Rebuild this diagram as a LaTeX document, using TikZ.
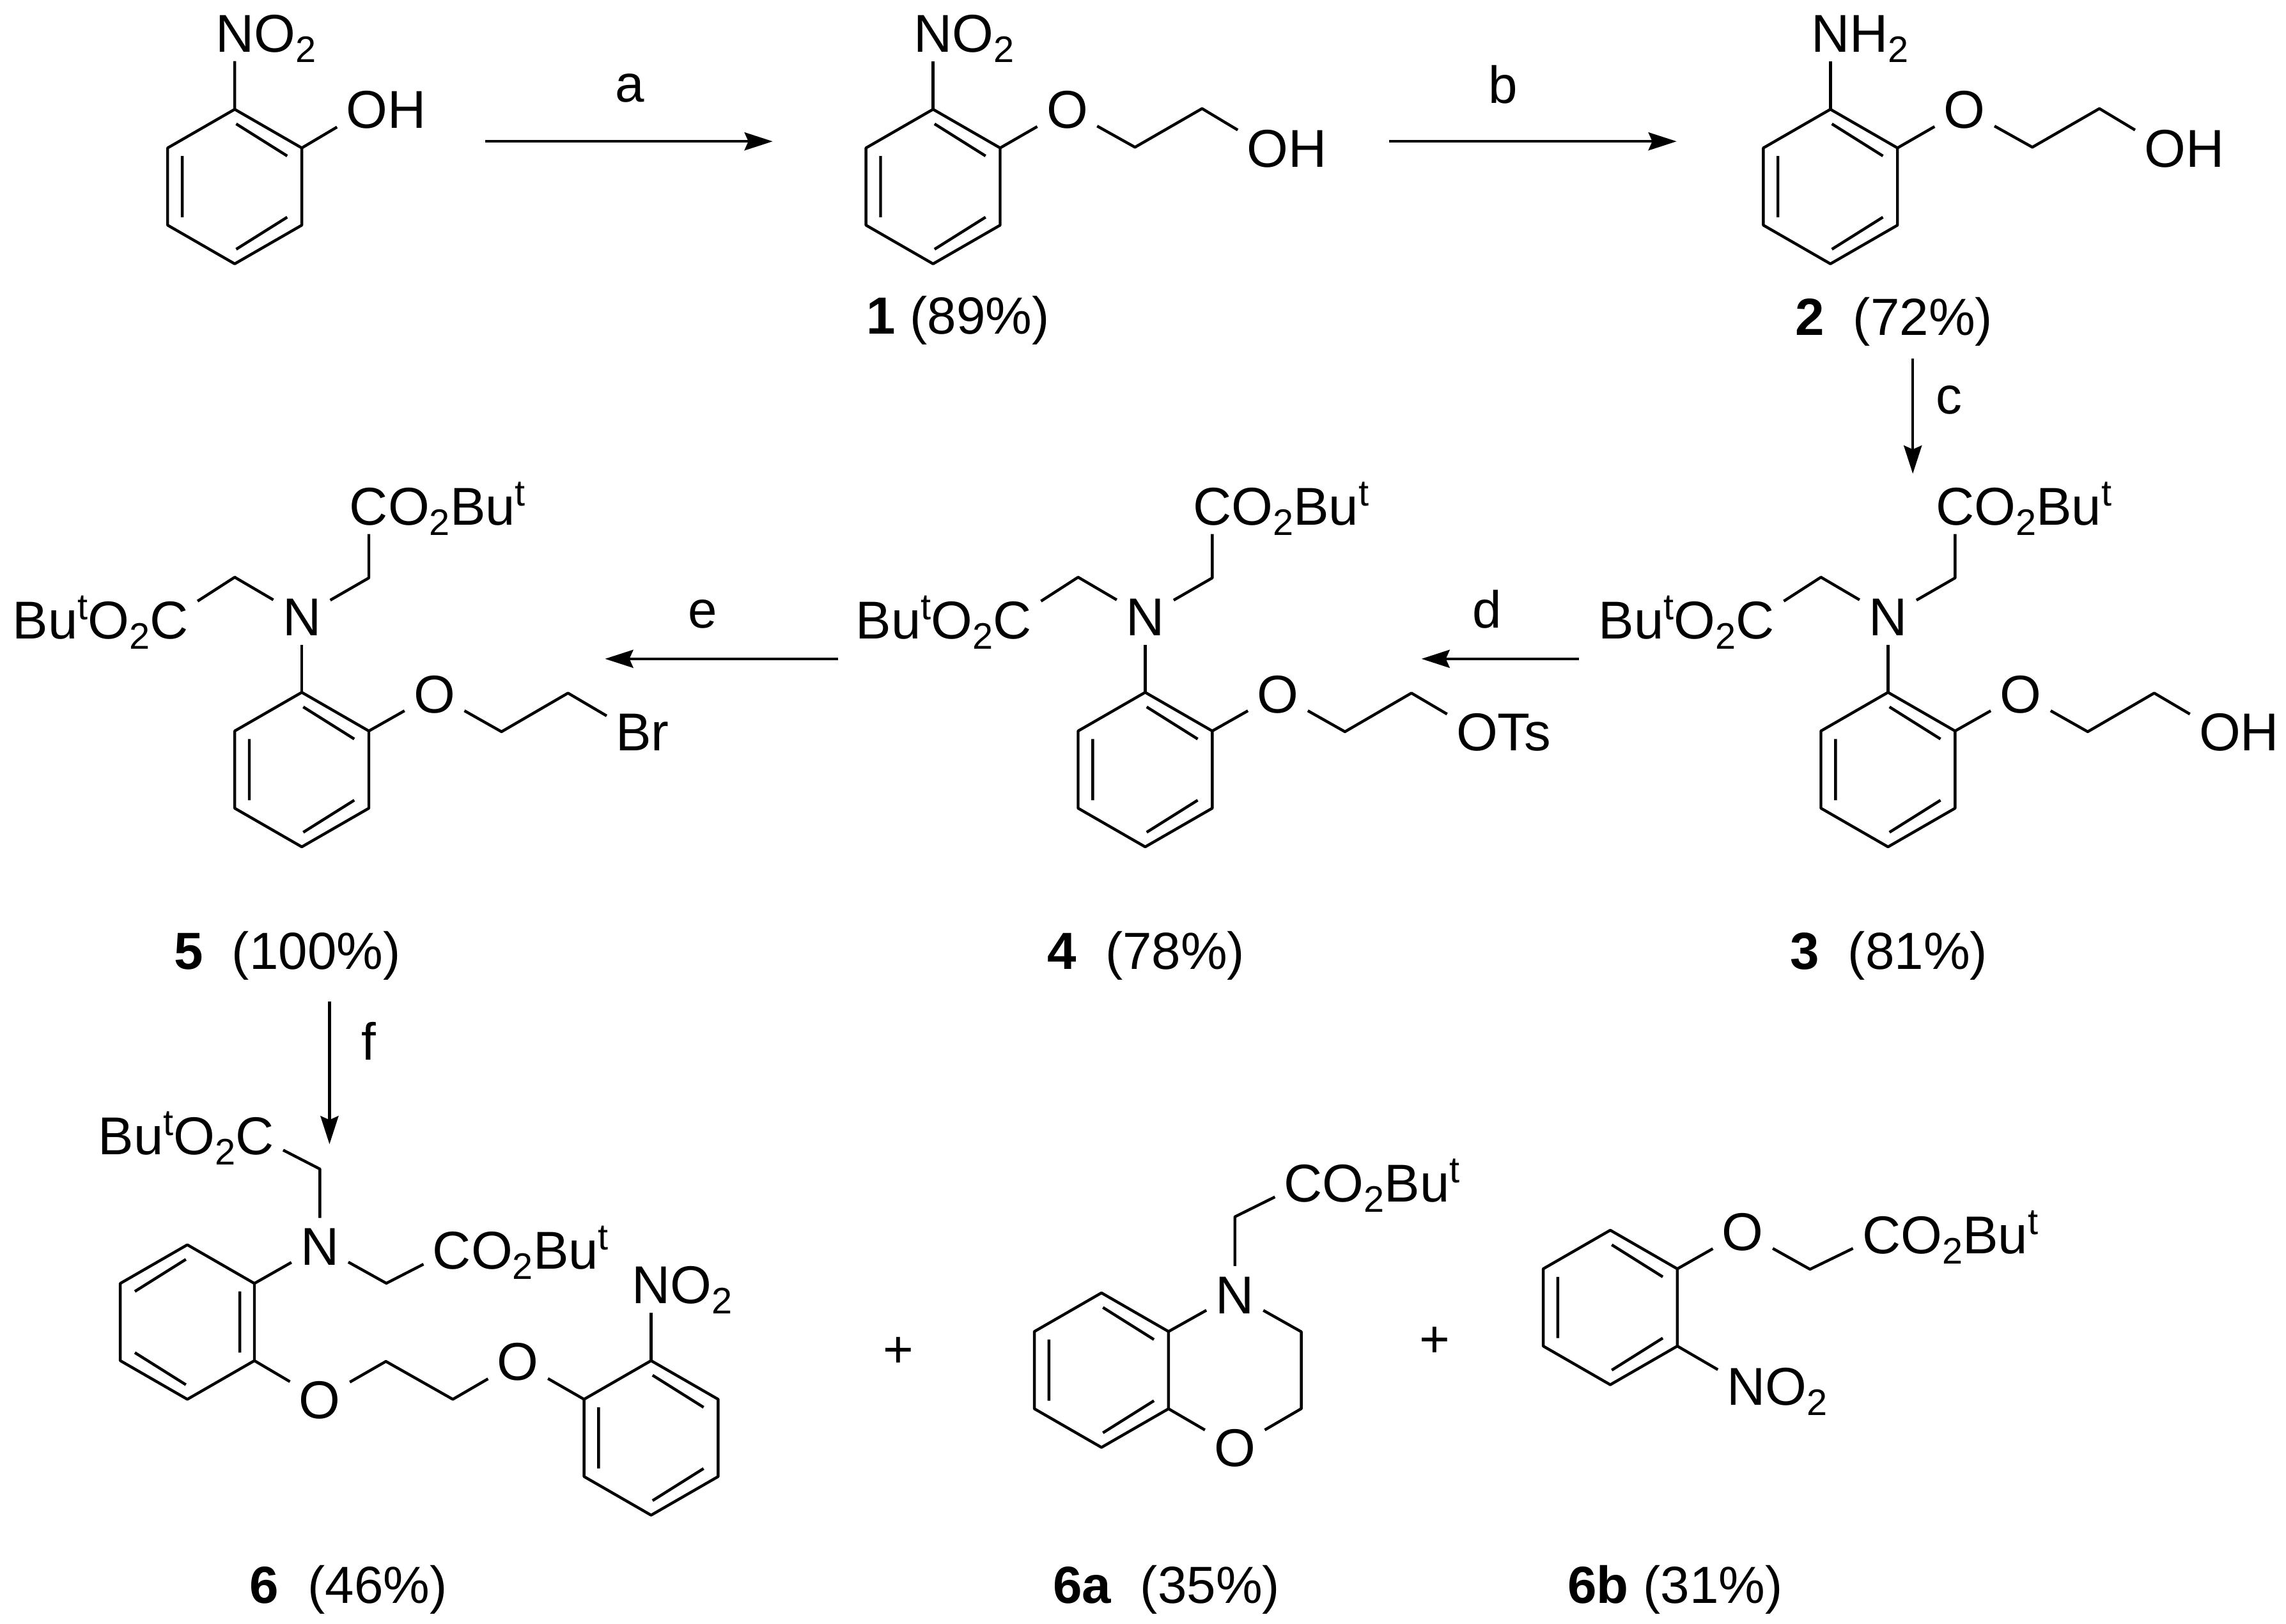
\documentclass[tikz,border=0pt]{standalone}
\usepackage{fontspec}
\setmainfont{Liberation Sans}
\usepackage{tikz}
\usetikzlibrary{arrows.meta}
\usetikzlibrary{positioning}
\newcommand{\chemsub}[1]{\raisebox{-4pt}{\fontsize{14.4}{15}\selectfont #1}}
\newcommand{\chemsup}[1]{\raisebox{7.4pt}{\fontsize{14.4}{15}\selectfont #1}}
\newcommand{\tbu}{Bu\chemsup{t}}
\tikzset{
	myscheme/.style = {
		x=0.02cm, y=-0.02cm, >={Stealth[length=11pt,width=7pt,inset=1.5pt]},
	},
	bond/.style = {line width=1.1pt, line join=round},
	step arrow/.style = {->, line width=1.1pt},
	atom/.style = {font=\fontsize{20.8}{24}\selectfont, inner sep=0pt, outer sep=3.6pt, text height=14.9pt, text depth=0pt},
	reagent/.style = {font=\fontsize{20.4}{24}\selectfont, inner sep=0pt, anchor=base},
}
% ring name, centre, 1 or -1 (mirror)
\newcommand{\benzring}[3]{
	\begin{scope}[shift={(#2)}, xscale=#3]
		\foreach \v/\dx/\dy in {1/0/-53, 2/46/-26.5, 3/46/26.5, 4/0/53, 5/-46/26.5, 6/-46/-26.5,
			a/-36/-21, b/-36/21, c/1/-43, d/36/-21, e/36/21, f/1/43}
			\coordinate (#1\v) at (\dx,\dy);
		\draw[bond] (#11) -- (#12) -- (#13) -- (#14) -- (#15) -- (#16) -- cycle;
		\draw[bond] (#1a) -- (#1b) (#1c) -- (#1d) (#1e) -- (#1f);
	\end{scope}
}

\begin{document}
\begin{tikzpicture}[myscheme]
	\useasboundingbox (0,0) rectangle (1568,1114.17);

	% top row
	\benzring{r0}{161,128}{1}
	\node[atom] (no0) at (161,22.5) {N\rlap{O\chemsub{2}}};
	\node[atom] (oh0) at (251.7,75) {O\rlap{H}};
	\draw[bond] (r01) -- (no0) (r02) -- (oh0);

	\foreach \cpd/\x/\second in {1/640/O, 2/1255.5/H} {
		\benzring{r\cpd}{\x,128}{1}
		\node[atom] (top\cpd) at (\x,22.5) {N\rlap{\second\chemsub{2}}};
		\node[atom] (oa\cpd) at (\x+92,75) {O};
		\coordinate (ca\cpd) at (\x+138.5,101);
		\coordinate (cb\cpd) at (\x+184.5,74.5);
		\node[atom] (oh\cpd) at (\x+229.5,101.5) {O\rlap{H}};
		\draw[bond] (r\cpd1) -- (top\cpd);
		\draw[bond] (r\cpd2) -- (oa\cpd) -- (ca\cpd) -- (cb\cpd) -- (oh\cpd);
	}

	% middle row
	\foreach \cpd/\x/\first/\rest in {3/1295/O/H, 4/785.5/O/Ts, 5/207/B/r} {
		\benzring{r\cpd}{\x,528}{1}
		\node[atom] (n\cpd) at (\x,423) {N};
		\coordinate (ca\cpd) at (\x-46,396);
		\coordinate (cb\cpd) at (\x+46,396.5);
		\node[atom] (esl\cpd) at (\x-91,425) {\llap{\tbu O\chemsub{2}}C};
		\node[atom] (esr\cpd) at (\x+46,347) {C\rlap{O\chemsub{2}\tbu}};
		\node[atom] (oa\cpd) at (\x+91,476) {O};
		\coordinate (cc\cpd) at (\x+137,502);
		\coordinate (cd\cpd) at (\x+182.6,475.5);
		\node[atom] (end\cpd) at (\x+227.6,502) {\first\rlap{\rest}};
		\draw[bond] (r\cpd1) -- (n\cpd);
		\draw[bond] (esl\cpd) -- (ca\cpd) -- (n\cpd) -- (cb\cpd) -- (esr\cpd);
		\draw[bond] (r\cpd2) -- (oa\cpd) -- (cc\cpd) -- (cd\cpd) -- (end\cpd);
	}

	% bottom row, 6 (left ring is mirrored, so 6 is its upper right vertex)
	\benzring{r6l}{128.5,907}{-1}
	\benzring{r6r}{446.6,986.5}{1}
	\node[atom] (n6) at (219.4,855) {N};
	\coordinate (ca6) at (219.4,802);
	\coordinate (cb6) at (265,880.4);
	\node[atom] (esl6) at (174.7,779) {\llap{\tbu O\chemsub{2}}C};
	\node[atom] (esr6) at (310,857.3) {C\rlap{O\chemsub{2}\tbu}};
	\node[atom] (oa6) at (219.4,960) {O};
	\coordinate (cc6) at (264.7,934);
	\coordinate (cd6) at (310.6,960);
	\node[atom] (ob6) at (355.3,934) {O};
	\node[atom] (no6) at (446.6,881) {N\rlap{O\chemsub{2}}};
	\draw[bond] (r6l6) -- (n6) -- (cb6) -- (esr6);
	\draw[bond] (esl6) -- (ca6) -- (n6);
	\draw[bond] (r6l5) -- (oa6) -- (cc6) -- (cd6) -- (ob6) -- (r6r6);
	\draw[bond] (r6r1) -- (no6);

	% 6a
	\benzring{r6a}{755.5,940}{1}
	\node[atom] (n6a) at (847,888) {N};
	\node[atom] (o6a) at (847,993) {O};
	\coordinate (ca6a) at (892.6,913.7);
	\coordinate (cb6a) at (892.6,966.4);
	\coordinate (cc6a) at (847,834.8);
	\node[atom] (es6a) at (894,811.5) {C\rlap{O\chemsub{2}\tbu}};
	\draw[bond] (r6a2) -- (n6a) -- (ca6a) -- (cb6a) -- (o6a) -- (r6a3);
	\draw[bond] (n6a) -- (cc6a) -- (es6a);

	% 6b
	\benzring{r6b}{1104.5,897}{1}
	\node[atom] (o6b) at (1195.4,845) {O};
	\coordinate (ca6b) at (1241.5,870.8);
	\node[atom] (es6b) at (1290.5,847) {C\rlap{O\chemsub{2}\tbu}};
	\node[atom] (no6b) at (1197.8,951) {N\rlap{O\chemsub{2}}};
	\draw[bond] (r6b2) -- (o6b) -- (ca6b) -- (es6b);
	\draw[bond] (r6b3) -- (no6b);

	\node[reagent] (plusa) at (616,938) {+};
	\node[reagent] (plusb) at (984,931) {+};

	% arrows
	\foreach \st/\xa/\ya/\xb/\yb in {a/333/97/530/97, b/953/97/1150/97, c/1312/246/1312/325,
		d/1083/452/975/452, e/575/452/415/452, f/226/687/226/785} {
		\coordinate (s\st) at (\xa,\ya);
		\coordinate (t\st) at (\xb,\yb);
		\draw[step arrow] (s\st) -- (t\st);
	}
	\node[reagent] (la) at (432,70) {a};
	\node[reagent] (lb) at (1031,71) {b};
	\node[reagent] (lc) at (1337,284) {c};
	\node[reagent] (ld) at (1020,431) {d};
	\node[reagent] (le) at (482,431) {e};
	\node[reagent] (lf) at (253,727) {f};

	% compound labels
	\node[reagent] (name1) at (657,229) {\textbf{1} (89\%)};
	\node[reagent] (name2) at (1299,230) {\textbf{2}\ \ (72\%)};
	\node[reagent] (name3) at (1295.5,665) {\textbf{3}\ \ (81\%)};
	\node[reagent] (name4) at (786,665) {\textbf{4}\ \ (78\%)};
	\node[reagent] (name5) at (197,665) {\textbf{5}\ \ (100\%)};
	\node[reagent] (name6) at (239,1100) {\textbf{6}\ \ (46\%)};
	\node[reagent] (name6a) at (800,1100) {\textbf{6a}\ \ (35\%)};
	\node[reagent] (name6b) at (1149,1100) {\textbf{6b} (31\%)};
\end{tikzpicture}
\end{document}
